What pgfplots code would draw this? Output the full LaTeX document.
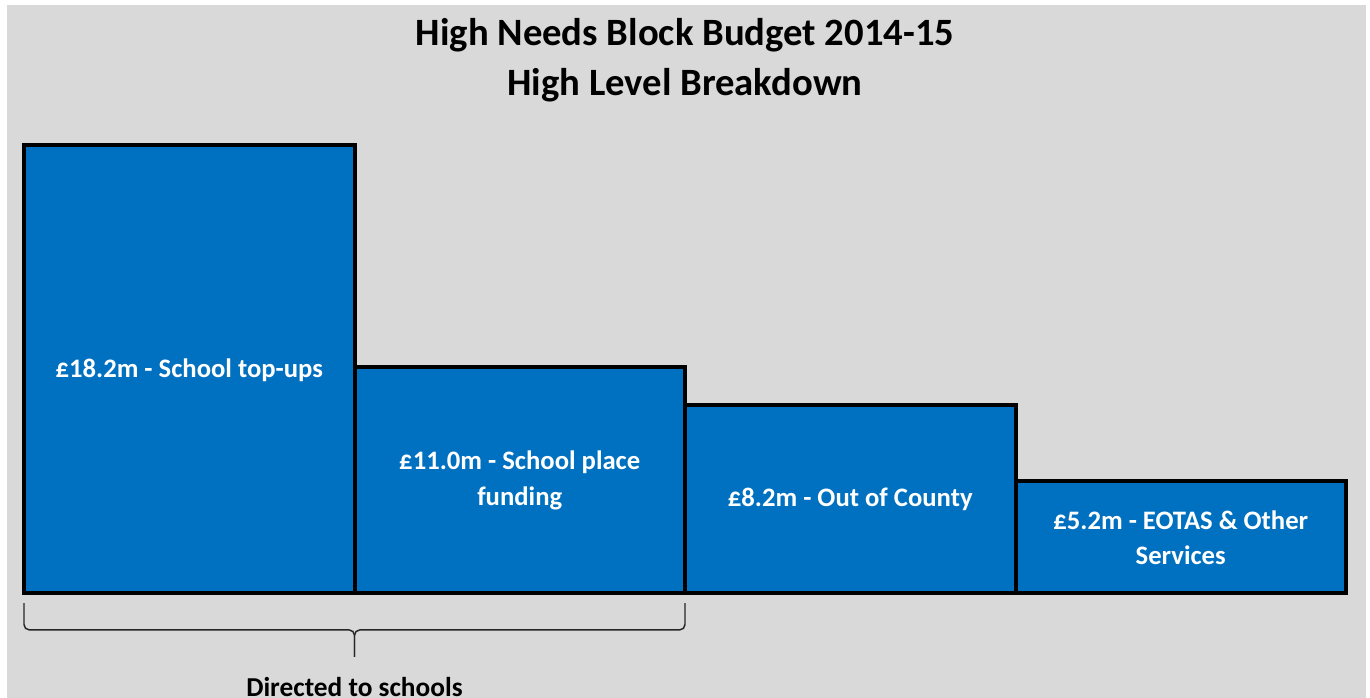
\documentclass[border=0pt]{standalone}
\usepackage{fontspec}
\setmainfont{Carlito}
\usepackage{pgfplots}
\pgfplotsset{compat=1.18}
\definecolor{bg}{HTML}{D9D9D9}
\definecolor{barblue}{HTML}{0070C0}

\begin{document}
\begin{tikzpicture}[x=0.75pt,y=0.75pt]
\useasboundingbox (0,0) rectangle (1370,698);
\fill[white] (0,0) rectangle (1370,698);
\fill[bg] (7,0) rectangle (1366,693);
% title
\node[align=center, font=\bfseries\fontsize{29}{37.5}\selectfont] at (685,638) {High Needs Block Budget 2014-15\\High Level Breakdown};

\begin{axis}[
  at={(18pt,78.75pt)}, anchor=south west,
  width=991.5pt, height=336pt, scale only axis,
  xmin=-0.5, xmax=3.5, ymin=0, ymax=18.2,
  axis lines=none, ticks=none, clip=false,
  ybar, bar width=1,
]
\addplot[fill=barblue, draw=black, line width=3pt] coordinates {
(0,18.2) (1,9.2) (2,7.65) (3,4.55)
};

\tikzset{lbl/.style={white, align=center, font=\bfseries\fontsize{20}{26.5}\selectfont}}
\node[lbl] at (axis cs:0,9.05) {£18.2m - School top-ups};
\node[lbl] at (axis cs:1,4.57) {£11.0m - School place\\funding};
\node[lbl] at (axis cs:2,3.8) {£8.2m - Out of County};
\node[lbl] at (axis cs:3,2.25) {£5.2m - EOTAS \& Other\\Services};

% brace under the first two bars
\draw[black!85, line width=1.1pt, rounded corners=4pt]
  (axis cs:-0.5,-0.41) -- (axis cs:-0.5,-1.5) -- (axis cs:0.5,-1.5) -- (axis cs:0.5,-2.6);
\draw[black!85, line width=1.1pt, rounded corners=4pt]
  (axis cs:1.5,-0.41) -- (axis cs:1.5,-1.5) -- (axis cs:0.5,-1.5) -- (axis cs:0.5,-2.6);
\node[font=\bfseries\fontsize{20.5}{24}\selectfont] at (axis cs:0.5,-3.82) {Directed to schools};
\end{axis}
\end{tikzpicture}
\end{document}
